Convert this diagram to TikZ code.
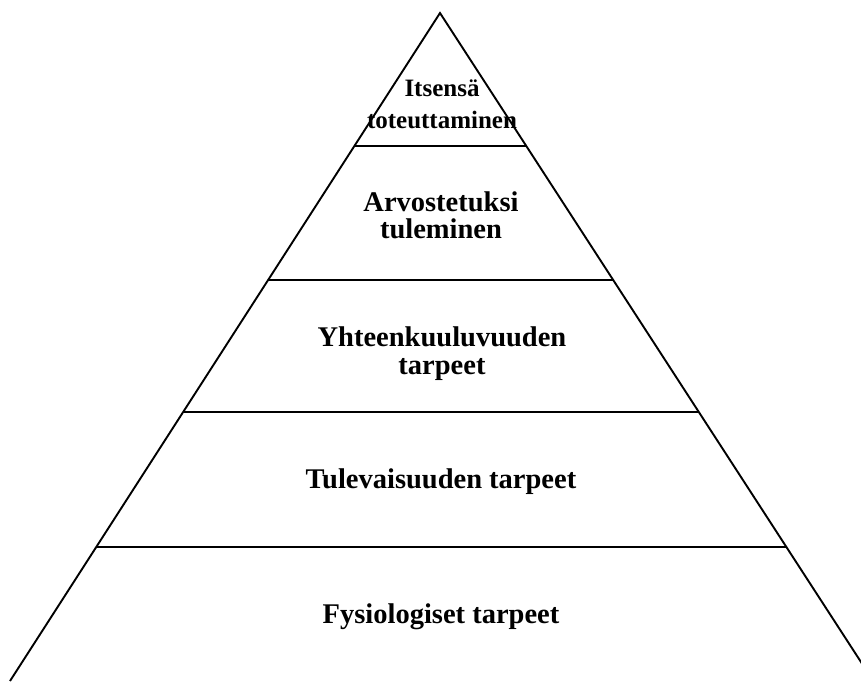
\documentclass[tikz,border=0pt]{standalone}
\usepackage{fontspec}
\setmainfont{Liberation Serif}
\begin{document}
\begin{tikzpicture}[x=1pt,y=-1pt,
  edge/.style={draw=black,line width=1.9pt},
  lvl/.style={font=\bfseries\fontsize{28.5}{28}\selectfont,inner sep=0pt,anchor=base},
  toplvl/.style={font=\bfseries\fontsize{25}{31}\selectfont,inner sep=0pt,anchor=base}]
\useasboundingbox (0,0) rectangle (861,681);
\clip (0,0) rectangle (861,681);
\coordinate (apex) at (440,13);
\coordinate (bl) at (10,681);
\coordinate (br) at (873.3,681);
\draw[edge,line join=miter] (bl) -- (apex) -- (br);
\foreach \y/\n in {146/a,280/b,412/c,547/d}{
  \coordinate (l\n) at ({440-0.6437*(\y-13)},\y);
  \coordinate (r\n) at ({440+0.6487*(\y-13)},\y);
  \draw[edge] (l\n) -- (r\n);
}
\node[toplvl] (t1a) at (442,96) {Itsensä};
\node[toplvl] (t1b) at (442,128) {toteuttaminen};
\node[lvl] (t2a) at (441,211) {Arvostetuksi};
\node[lvl] (t2b) at (441,238) {tuleminen};
\node[lvl] (t3a) at (442,346) {Yhteenkuuluvuuden};
\node[lvl] (t3b) at (442,374) {tarpeet};
\node[lvl] (t4) at (441,488) {Tulevaisuuden tarpeet};
\node[lvl] (t5) at (441,623) {Fysiologiset tarpeet};
\end{tikzpicture}
\end{document}
